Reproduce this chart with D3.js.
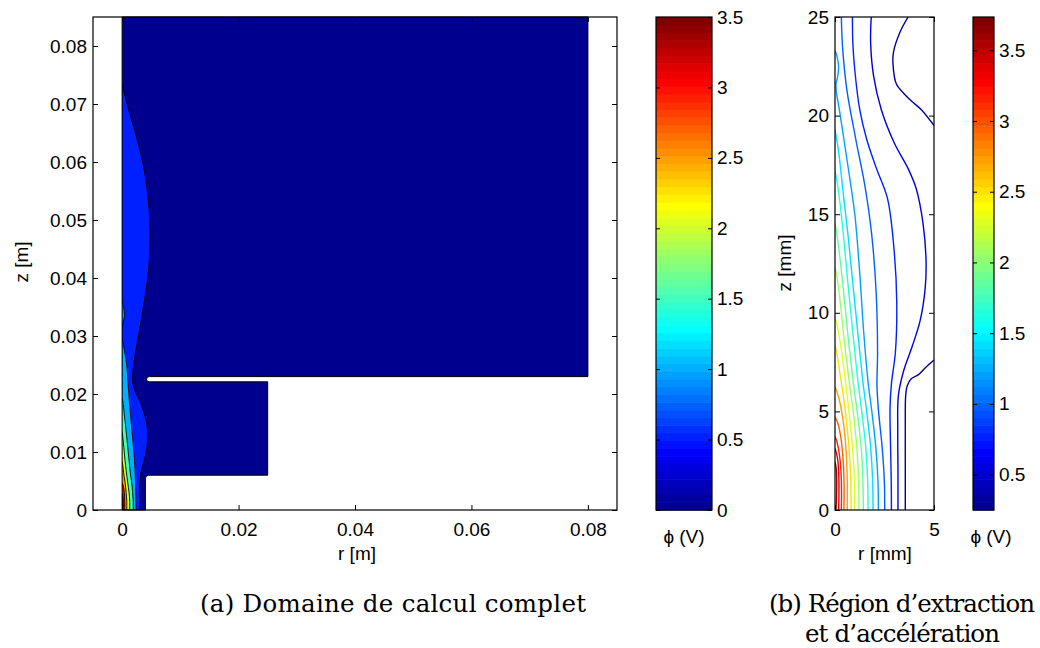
<!DOCTYPE html>
<html><head><meta charset="utf-8">
<script src="https://cdn.jsdelivr.net/npm/d3@7"></script>
<style>body{margin:0;background:#fff}svg{display:block}</style>
</head><body><svg id="c" width="1040" height="648"></svg>
<script>
// ---------------- data ----------------
const leftXTicks = [0, 0.02, 0.04, 0.06, 0.08];
const leftYTicks = [0, 0.01, 0.02, 0.03, 0.04, 0.05, 0.06, 0.07, 0.08];
const leftCbarTicks = [0, 0.5, 1, 1.5, 2, 2.5, 3, 3.5];
const rightXTicks = [0, 5];
const rightYTicks = [0, 5, 10, 15, 20, 25];
const rightCbarTicks = [0.5, 1, 1.5, 2, 2.5, 3, 3.5];
const leftCLim = [0, 3.5];
const rightCLim = [0.25, 3.735];

// computational domain outline (r [m], z [m])
const domainOutline = [[0,0],[0.004,0],[0.004,0.0055],[0.00415,0.0058],[0.0045,0.006],[0.025,0.006],[0.025,0.0221],
  [0.0047,0.0221],[0.0043,0.0222],[0.0042,0.02255],[0.0043,0.0229],[0.0047,0.023],[0.08,0.023],[0.08,0.085],[0,0.085]];

// filled-contour boundaries, left panel (r [m], z [m])
const leftLevels = [0.5, 1.0, 1.0, 1.5, 2.0, 2.5, 3.0, 3.5];
const cL05 = [[0,0.0733],[0.001,0.0695],[0.002,0.066],[0.0037,0.0592],[0.0046,0.0523],[0.0048,0.0466],[0.0046,0.042],[0.0041,0.0379],[0.003,0.031],[0.0021,0.0259],[0.0018,0.0224],[0.0021,0.0208],[0.0032,0.0184],[0.0042,0.015],[0.0044,0.0126],[0.0041,0.0098],[0.0035,0.0075],[0.0032,0.0063],[0.0031,0.0052],[0.003,0.003],[0.003,0]];
const cL10 = [[0,0.0295],[0.0004,0.0275],[0.0008,0.025],[0.001,0.022],[0.0013,0.018],[0.0017,0.0135],[0.0021,0.009],[0.0023,0.005],[0.0024,0]];
const cL10b = [[0,0.0362],[0.0003,0.0348],[0.0004,0.0335],[0.0002,0.0324],[0,0.0316]];
const cL15 = [[0,0.0193],[0.0002,0.0182],[0.0004,0.0162],[0.00065,0.014],[0.0009,0.0115],[0.00115,0.009],[0.0014,0.0065],[0.0016,0.005],[0.0018,0.0032],[0.0019,0.0015],[0.0019,0]];
const cL20 = [[0,0.0135],[0.00012,0.0125],[0.0003,0.0108],[0.0005,0.0085],[0.0007,0.0068],[0.00095,0.0048],[0.0012,0.003],[0.0013,0.0015],[0.0013,0]];
const cL25 = [[0,0.0084],[0.0001,0.0078],[0.0002,0.007],[0.00035,0.0058],[0.00055,0.0045],[0.0007,0.003],[0.0008,0.0015],[0.0008,0]];
const cL30 = [[0,0.0047],[0.00016,0.0043],[0.00032,0.0035],[0.00042,0.0024],[0.00046,0.0012],[0.00045,0]];
const cL35 = [[0,0.0029],[0.0001,0.0025],[0.00017,0.0018],[0.00019,0.0009],[0.00017,0]];
const leftContours = [cL05, cL10, cL10b, cL15, cL20, cL25, cL30, cL35];

// contour lines, right panel (r [mm], z [mm])
const rightLevels = [3.6,3.38,3.17,2.95,2.73,2.52,2.3,2.08,1.87,1.65,1.43,1.22,1.0,0.78,0.57,0.35,0.35];
const r01 = [[0.05,0],[0.08,0.8],[0.085,1.6],[0.06,2.1],[0,2.45]];
const r02 = [[0.185,0],[0.2,0.9],[0.19,1.8],[0.13,2.6],[0,3.13]];
const r03 = [[0.32,0],[0.33,1.0],[0.3,2.0],[0.21,2.9],[0.1,3.45],[0,3.72]];
const r04 = [[0.45,0],[0.46,1.2],[0.42,2.4],[0.32,3.5],[0.16,4.35],[0,4.73]];
const r05 = [[0.62,0],[0.62,1.5],[0.56,3.0],[0.44,4.3],[0.26,5.4],[0.1,6.0],[0,6.25]];
const r06 = [[0.81,0],[0.8,1.5],[0.72,3.0],[0.58,4.5],[0.42,5.8],[0.27,6.8],[0.1,7.9],[0,8.37]];
const r07 = [[0.99,0],[0.98,1.5],[0.9,3.0],[0.76,4.5],[0.57,6.2],[0.37,7.8],[0.16,9.1],[0,9.8]];
const r08 = [[1.21,0],[1.19,1.5],[1.1,3.2],[0.92,5.0],[0.72,6.5],[0.5,8.3],[0.3,10.2],[0.12,11.7],[0,12.3]];
const r09 = [[1.43,0],[1.41,1.5],[1.32,3.2],[1.12,5.0],[0.92,6.5],[0.66,8.8],[0.42,11.2],[0.2,13.2],[0.06,14.2],[0,14.55]];
const r10 = [[1.67,0],[1.65,1.5],[1.55,3.2],[1.35,5.0],[1.16,6.5],[0.9,9.0],[0.65,11.5],[0.42,14.0],[0.2,16.0],[0.06,16.9],[0,17.2]];
const r11 = [[1.92,0],[1.9,1.5],[1.8,3.2],[1.6,5.0],[1.41,6.5],[1.15,9.0],[0.9,11.5],[0.65,14.0],[0.4,16.2],[0.18,18.2],[0.05,19.0],[0,19.3]];
const r12 = [[2.19,0],[2.17,1.5],[2.06,3.2],[1.86,5.0],[1.67,6.5],[1.45,9.0],[1.25,12.0],[1.0,15.0],[0.72,17.0],[0.45,18.8],[0.22,20.3],[0.07,21.2],[0.05,21.6],[0.14,22.0],[0.18,22.5],[0.1,23.0],[0,23.3]];
const r13 = [[2.51,0],[2.49,1.5],[2.38,3.2],[2.2,5.0],[2.12,6.3],[2.15,8.0],[2.08,11.0],[1.85,14.0],[1.5,16.5],[1.05,18.8],[0.6,21.3],[0.38,23.5],[0.32,25]];
const r14 = [[2.85,0],[2.84,1.5],[2.8,3.5],[2.78,5.2],[2.85,6.4],[3.05,8.0],[3.12,10.5],[3.0,13.0],[2.65,15.8],[2.1,17.3],[1.6,18.8],[1.25,20.3],[1.0,22.3],[0.9,23.7],[0.88,25]];
const r15 = [[3.18,0],[3.18,2.0],[3.17,4.0],[3.2,5.8],[3.45,7.0],[3.9,8.3],[4.3,9.6],[4.55,11.2],[4.6,12.6],[4.45,14.5],[4.1,16.3],[3.7,17.3],[3.0,18.6],[2.34,20.3],[1.95,22.0],[1.8,23.7],[1.83,25]];
const r16 = [[3.55,0],[3.55,2.0],[3.55,4.0],[3.57,5.8],[3.65,6.3],[3.85,6.65],[4.2,6.85],[4.55,7.2],[5.0,7.6]];
const r16b = [[3.69,25],[3.27,24.2],[2.95,23.2],[2.93,22.6],[3.1,21.6],[3.5,21.1],[3.9,20.7],[4.36,20.3],[5.0,19.5]];
const rightContours = [r01,r02,r03,r04,r05,r06,r07,r08,r09,r10,r11,r12,r13,r14,r15,r16,r16b];

// ---------------- helpers ----------------
function jetRGB(i){ // MATLAB jet(64), 1-based index
  const u = k => (k>=1 && k<=47) ? (k<=16 ? k/16 : (k<=31 ? 1 : (48-k)/16)) : 0;
  return [u(i-24), u(i-8), u(i+8)];
}
function cmap(v, lim){
  let i = Math.floor((v-lim[0])/(lim[1]-lim[0])*64)+1;
  i = Math.max(1, Math.min(64, i));
  const c = jetRGB(i);
  return d3.rgb(c[0]*255, c[1]*255, c[2]*255).formatHex();
}
const FONT = '"Liberation Sans", Arial, Helvetica, sans-serif';
const FS = 19;
const svg = d3.select("#c");
const defs = svg.append("defs");

function styleAxis(g, size){
  g.attr("font-family", FONT).attr("font-size", size);
  g.select(".domain").remove();
  g.selectAll(".tick line").attr("stroke", "#000").attr("stroke-width", 1);
  g.selectAll(".tick text").attr("fill", "#000");
}
const fmt = d => String(d);

// ---------------- left panel ----------------
const L = {x0:93, x1:617, y0:17, y1:510};
const xL = d3.scaleLinear([-0.005, 0.085], [L.x0, L.x1]);
const yL = d3.scaleLinear([0, 0.085], [L.y1, L.y0]);
const domPath = d3.line().x(d=>xL(d[0])).y(d=>yL(d[1]))(domainOutline) + "Z";
defs.append("clipPath").attr("id","dom").append("path").attr("d", domPath);
const smoothL = d3.line().x(d=>xL(d[0])).y(d=>yL(d[1])).curve(d3.curveCatmullRom.alpha(0.5));

const gL = svg.append("g");
gL.append("path").attr("d", domPath).attr("fill", cmap(leftCLim[0], leftCLim));
const gBands = gL.append("g").attr("clip-path","url(#dom)");
leftContours.forEach((c, k) => {
  gBands.append("path")
    .attr("d", smoothL(c) + `L${xL(0)},${yL(0)}Z`)
    .attr("fill", cmap(leftLevels[k], leftCLim));
});
leftContours.forEach(c => {
  gBands.append("path").attr("d", smoothL(c)).attr("fill","none")
    .attr("stroke","#000").attr("stroke-width",0.9);
});
gL.append("path").attr("d", domPath).attr("fill","none").attr("stroke","#000").attr("stroke-width",1);

svg.append("rect").attr("x",L.x0).attr("y",L.y0).attr("width",L.x1-L.x0).attr("height",L.y1-L.y0)
  .attr("fill","none").attr("stroke","#000").attr("stroke-width",1.2);
svg.append("g").attr("transform",`translate(0,${L.y1})`)
  .call(d3.axisBottom(xL).tickValues(leftXTicks).tickSizeInner(-5).tickSizeOuter(0).tickPadding(13).tickFormat(fmt))
  .call(g=>styleAxis(g,FS));
svg.append("g").attr("transform",`translate(0,${L.y0})`)
  .call(d3.axisTop(xL).tickValues(leftXTicks).tickSizeInner(-5).tickSizeOuter(0).tickFormat(""))
  .call(g=>styleAxis(g,FS));
svg.append("g").attr("transform",`translate(${L.x0},0)`)
  .call(d3.axisLeft(yL).tickValues(leftYTicks).tickSizeInner(-5).tickSizeOuter(0).tickPadding(6).tickFormat(fmt))
  .call(g=>styleAxis(g,FS));
svg.append("g").attr("transform",`translate(${L.x1},0)`)
  .call(d3.axisRight(yL).tickValues(leftYTicks).tickSizeInner(-5).tickSizeOuter(0).tickFormat(""))
  .call(g=>styleAxis(g,FS));
svg.append("text").attr("x",357).attr("y",560).attr("text-anchor","middle")
  .attr("font-family",FONT).attr("font-size",FS).text("r [m]");
svg.append("text").attr("transform","translate(28,262) rotate(-90)").attr("text-anchor","middle")
  .attr("font-family",FONT).attr("font-size",FS).text("z [m]");

// ---------------- colorbars ----------------
function colorbar(x0, x1, lim, ticks, labelX){
  const y = d3.scaleLinear(lim, [L.y1, L.y0]);
  const idx = d3.range(1, 65);
  const h = (L.y1 - L.y0)/64;
  svg.append("g").selectAll("rect").data(idx).join("rect")
    .attr("x", x0).attr("width", x1-x0)
    .attr("y", i => L.y1 - i*h).attr("height", h+0.6)
    .attr("fill", i => { const c = jetRGB(i); return d3.rgb(c[0]*255,c[1]*255,c[2]*255).formatHex(); });
  svg.append("rect").attr("x",x0).attr("y",L.y0).attr("width",x1-x0).attr("height",L.y1-L.y0)
    .attr("fill","none").attr("stroke","#000").attr("stroke-width",1.2);
  svg.append("g").attr("transform",`translate(${x1},0)`)
    .call(d3.axisRight(y).tickValues(ticks).tickSizeInner(-4).tickSizeOuter(0).tickPadding(5).tickFormat(fmt))
    .call(g=>styleAxis(g,FS));
  svg.append("g").attr("transform",`translate(${x0},0)`)
    .call(d3.axisLeft(y).tickValues(ticks).tickSizeInner(-4).tickSizeOuter(0).tickFormat(""))
    .call(g=>styleAxis(g,FS));
  svg.append("text").attr("x",labelX).attr("y",543).attr("text-anchor","middle")
    .attr("font-family",FONT).attr("font-size",FS).text("\u03D5 (V)");
}
colorbar(656, 712, leftCLim, leftCbarTicks, 684);

// ---------------- right panel ----------------
const R = {x0:835, x1:934, y0:17, y1:510};
const xR = d3.scaleLinear([0, 5], [R.x0, R.x1]);
const yR = d3.scaleLinear([0, 25], [R.y1, R.y0]);
defs.append("clipPath").attr("id","rclip").append("rect")
  .attr("x",R.x0).attr("y",R.y0).attr("width",R.x1-R.x0).attr("height",R.y1-R.y0);
const smoothR = d3.line().x(d=>xR(d[0])).y(d=>yR(d[1])).curve(d3.curveCatmullRom.alpha(0.5));
const gR = svg.append("g").attr("clip-path","url(#rclip)");
rightContours.forEach((c,k) => {
  gR.append("path").attr("d", smoothR(c)).attr("fill","none")
    .attr("stroke", cmap(rightLevels[k], rightCLim)).attr("stroke-width",1.4);
});
svg.append("rect").attr("x",R.x0).attr("y",R.y0).attr("width",R.x1-R.x0).attr("height",R.y1-R.y0)
  .attr("fill","none").attr("stroke","#000").attr("stroke-width",1.2);
svg.append("g").attr("transform",`translate(0,${R.y1})`)
  .call(d3.axisBottom(xR).tickValues(rightXTicks).tickSizeInner(-5).tickSizeOuter(0).tickPadding(13).tickFormat(fmt))
  .call(g=>styleAxis(g,FS));
svg.append("g").attr("transform",`translate(0,${R.y0})`)
  .call(d3.axisTop(xR).tickValues(rightXTicks).tickSizeInner(-5).tickSizeOuter(0).tickFormat(""))
  .call(g=>styleAxis(g,FS));
svg.append("g").attr("transform",`translate(${R.x0},0)`)
  .call(d3.axisLeft(yR).tickValues(rightYTicks).tickSizeInner(-5).tickSizeOuter(0).tickPadding(6).tickFormat(fmt))
  .call(g=>styleAxis(g,FS));
svg.append("g").attr("transform",`translate(${R.x1},0)`)
  .call(d3.axisRight(yR).tickValues(rightYTicks).tickSizeInner(-5).tickSizeOuter(0).tickFormat(""))
  .call(g=>styleAxis(g,FS));
svg.append("text").attr("x",885).attr("y",560).attr("text-anchor","middle")
  .attr("font-family",FONT).attr("font-size",FS).text("r [mm]");
svg.append("text").attr("transform","translate(791,263) rotate(-90)").attr("text-anchor","middle")
  .attr("font-family",FONT).attr("font-size",FS).text("z [mm]");

colorbar(973, 994, rightCLim, rightCbarTicks, 991);

// ---------------- captions ----------------
const SERIF = '"DejaVu Serif", "Liberation Serif", serif';
svg.append("text").attr("x",393).attr("y",612).attr("text-anchor","middle")
  .attr("font-family",SERIF).attr("font-size",24.5).attr("textLength",386)
  .text("(a) Domaine de calcul complet");
svg.append("text").attr("x",769).attr("y",612)
  .attr("font-family",SERIF).attr("font-size",24.5).attr("textLength",266)
  .text("(b) R\u00e9gion d\u2019extraction");
svg.append("text").attr("x",805).attr("y",642)
  .attr("font-family",SERIF).attr("font-size",24.5).attr("textLength",195)
  .text("et d\u2019acc\u00e9l\u00e9ration");
</script></body></html>
